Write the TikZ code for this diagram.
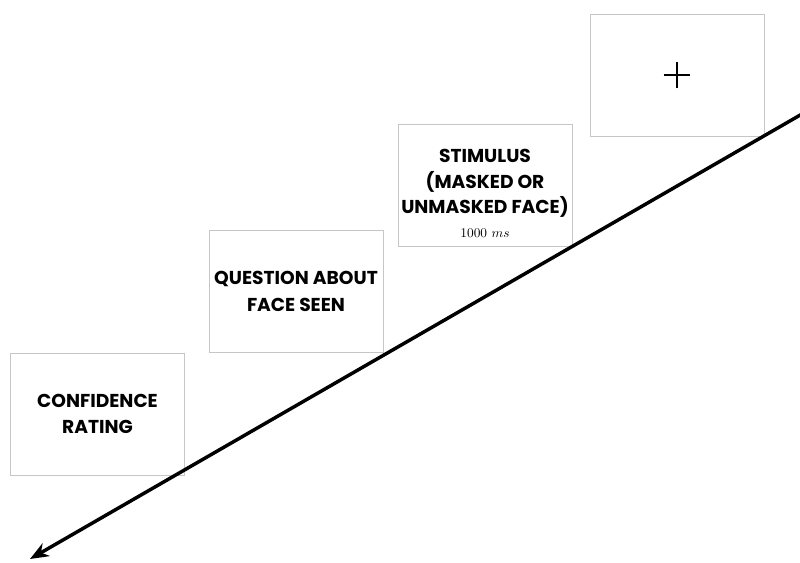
\documentclass[tikz,border=0pt]{standalone}
\usepackage{fontspec}
\usepackage{amsmath,amssymb}
\usetikzlibrary{arrows.meta}
\newfontfamily\spartan{Poppins}

\begin{document}
\begin{tikzpicture}
    [
        x=0.75pt, y=-0.75pt,
        screen/.style={draw=gray!45, line width=0.6pt, minimum width=130.5pt,
            minimum height=91.5pt, inner sep=0pt, align=center,
            font=\spartan\bfseries\fontsize{14}{20}\selectfont},
        timeline/.style={line width=2.6pt, -{Stealth[length=14pt,width=11pt]}},
    ]
    \useasboundingbox (0, 0) rectangle (800, 562);

    \node [screen] (fix) at (677, 75) {};
    \node [screen] (stim) at (485, 185.5) {};
    \node [screen] (quest) at (296, 291.5) {QUESTION ABOUT\\FACE SEEN};
    \node [screen] (conf) at (97.5, 414) {CONFIDENCE\\RATING};

    \node [align=center, inner sep=0pt, font=\spartan\bfseries\fontsize{14}{19}\selectfont]
        (stimtxt) at ([yshift=-6pt]stim.center)
        {STIMULUS\\(MASKED OR\\UNMASKED FACE)\\[-1pt]
         \normalfont\fontsize{10}{12}\selectfont $1000\ ms$};

    % fixation cross
    \draw [line width=0.8pt] ([xshift=-10pt]fix.center) -- ([xshift=10pt]fix.center);
    \draw [line width=0.8pt] ([yshift=-10pt]fix.center) -- ([yshift=10pt]fix.center);

    \coordinate (tstart) at (802, 114);
    \coordinate (tend) at (30, 559);
    \draw [timeline] (tstart) -- (tend);
\end{tikzpicture}
\end{document}
